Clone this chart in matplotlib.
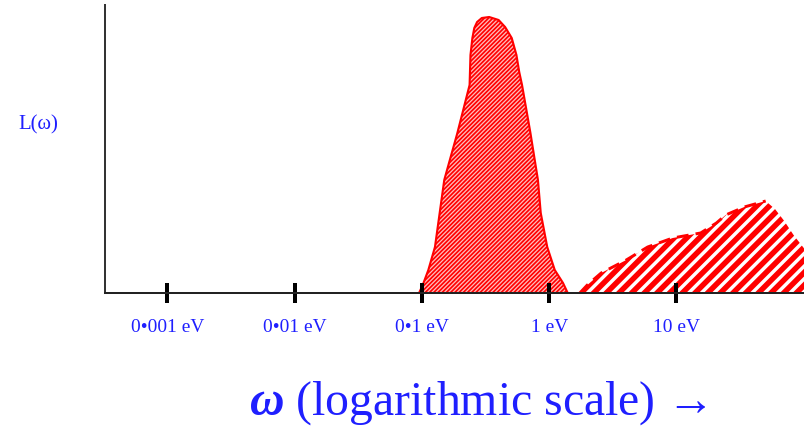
import matplotlib
matplotlib.use("Agg")
import matplotlib.pyplot as plt
import numpy as np

# energy axis (log10 of omega in eV) and L(omega) in arbitrary units
peak1_logw = [-1.022, -0.993, -0.949, -0.897, -0.860, -0.824, -0.721, -0.625, -0.618,
              -0.603, -0.588, -0.566, -0.529, -0.471, -0.397, -0.346, -0.294, -0.257,
              -0.235, -0.213, -0.147, -0.088, -0.066, -0.015, 0.044, 0.109, 0.146]
peak1_L = [0, 8, 23, 46, 80, 113, 160, 208, 238,
           255, 265, 271, 275, 276, 273, 266, 255, 238,
           221, 208, 160, 113, 80, 46, 23, 10, 0]

peak2_logw = [0.241, 0.30, 0.409, 0.606, 0.774, 0.971, 1.190, 1.314, 1.387,
              1.533, 1.701, 1.774, 1.847, 1.92, 2.0, 2.1]
peak2_L = [0, 8, 20, 33, 46, 55, 60, 70, 78,
           86, 92, 84, 72, 58, 45, 20]
dashed_upto = 11  # dashed outline only drawn on the first points

tick_vals = [0.001, 0.01, 0.1, 1, 10]
tick_labels = ["0\u2022001 eV", "0\u202201 eV", "0\u20221 eV", "1 eV", "10 eV"]

blue = "#1f1fff"
red = "#ff0000"
serif = ["Liberation Serif", "DejaVu Serif"]

plt.rcParams["mathtext.fontset"] = "custom"
plt.rcParams["mathtext.rm"] = "Liberation Serif"
plt.rcParams["mathtext.it"] = "Liberation Serif:italic"
plt.rcParams["mathtext.bf"] = "Liberation Serif:bold"
plt.rcParams["mathtext.bfit"] = "Liberation Serif:italic:bold"

DPI = 152
fig = plt.figure(figsize=(804 / DPI, 427 / DPI), dpi=DPI)
ax = fig.add_axes([105 / 804, 134 / 427, 699 / 804, 288 / 427])

w1 = 10 ** np.array(peak1_logw)
w2 = 10 ** np.array(peak2_logw)

p1 = ax.fill_between(w1, peak1_L, 0, facecolor="#ffbcbc", edgecolor=red,
                     hatch="/" * 12, linewidth=1.0, zorder=1)
p1.set_hatch_linewidth(0.8)

p2 = ax.fill_between(w2, peak2_L, 0, facecolor="white", edgecolor=red,
                     hatch="////", linewidth=0, zorder=1)
p2.set_hatch_linewidth(2.6)
ax.plot(w2[:dashed_upto], peak2_L[:dashed_upto], color=red, lw=1.4,
        ls=(0, (4, 2.4)), zorder=2)

ax.set_xscale("log")
ax.set_xlim(10 ** -3.489, 10 ** 2.002)
ax.set_ylim(0, 288)

ax.set_xticks(tick_vals)
ax.set_xticklabels(tick_labels, fontfamily=serif, fontsize=9.2, color=blue)
ax.minorticks_off()
ax.tick_params(axis="x", direction="inout", length=9.5, width=1.9,
               color="black", pad=7.5)
ax.set_yticks([])

for s in ["top", "right"]:
    ax.spines[s].set_visible(False)
ax.spines["bottom"].set_linewidth(0.95)
ax.spines["left"].set_linewidth(0.95)
ax.spines["bottom"].set_color("#222222")
ax.spines["left"].set_color("#333333")
ax.spines["bottom"].set_zorder(3)

fig.text(18 / 804, 1 - 125 / 427, "L(\u03c9)", family=serif, fontsize=9.8,
         color=blue, ha="left", va="center")
fig.text(478 / 804, 1 - 403 / 427,
         r"$\mathbfit{\omega}$" + " (logarithmic scale) \u2192",
         family=serif, fontsize=22.6, color=blue, ha="center", va="center")

fig.savefig("out.png", dpi=DPI)
